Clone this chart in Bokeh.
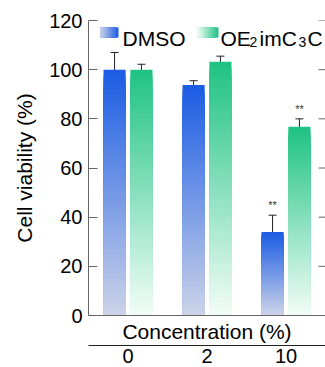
import numpy as np
from bokeh.plotting import figure
from bokeh.models import Range1d, LinearAxis, FixedTicker, ColumnDataSource, Whisker, TeeHead
from bokeh.core.properties import value
from bokeh.embed import file_html
from bokeh.resources import INLINE

# ---------------- data ----------------
concentrations = ["0", "2", "10"]
dmso_mean = [100.0, 93.8, 34.0]
dmso_err = [7.0, 1.7, 6.8]
oe_mean = [100.0, 103.2, 76.8]
oe_err = [2.2, 2.3, 3.2]
dmso_sig = ["", "", "**"]
oe_sig = ["", "", "**"]
y_ticks = [0, 20, 40, 60, 80, 100, 120]

# ---------------- style ----------------
FONT = "Liberation Sans"
DMSO_TOP, DMSO_BOT = "#1a5ce4", "#ccd3e8"
OE_TOP, OE_BOT = "#1ec283", "#f3fdf8"
BAR_W = 0.28
OFFSET = 0.17
N = 40
FRAME_L, FRAME_R, FRAME_T, FRAME_B = 88, 325, 20, 315

def hex2rgb(h):
    h = h.lstrip("#")
    return np.array([int(h[i:i + 2], 16) for i in (0, 2, 4)], dtype=float)

def mix(c0, c1, f):
    a, b = hex2rgb(c0), hex2rgb(c1)
    c = a + (b - a) * f
    return "#%02x%02x%02x" % tuple(int(round(v)) for v in c)

centers = [i + 0.5 for i in range(len(concentrations))]

p = figure(width=325, height=367, x_range=Range1d(0, 3), y_range=Range1d(0, 120),
           output_backend="svg", toolbar_location=None,
           min_border_left=FRAME_L, min_border_top=FRAME_T, min_border_right=0,
           min_border_bottom=367 - FRAME_B)
p.outline_line_color = None
p.xgrid.visible = False
p.ygrid.visible = False
p.background_fill_color = "white"

# gradient bars (stacked from full height down so no seams)
def gradient_bars(xs, vals, top_c, bot_c):
    L, R, B, T, C = [], [], [], [], []
    for x, v in zip(xs, vals):
        for k in range(N - 1, -1, -1):
            L.append(x - BAR_W / 2); R.append(x + BAR_W / 2)
            B.append(0); T.append(v * (k + 1) / N)
            C.append(mix(bot_c, top_c, (k + 0.5) / N))
    p.quad(left=L, right=R, bottom=B, top=T, fill_color=C, line_color=None)

x_dmso = [c - OFFSET for c in centers]
x_oe = [c + OFFSET for c in centers]
gradient_bars(x_dmso, dmso_mean, DMSO_TOP, DMSO_BOT)
gradient_bars(x_oe, oe_mean, OE_TOP, OE_BOT)

# error bars
for xs, m, e, sig in ((x_dmso, dmso_mean, dmso_err, dmso_sig), (x_oe, oe_mean, oe_err, oe_sig)):
    src = ColumnDataSource(dict(x=xs, upper=[a + b for a, b in zip(m, e)],
                                lower=[a - b for a, b in zip(m, e)], sig=sig))
    w = Whisker(source=src, base="x", upper="upper", lower="lower", line_color="#222222", line_width=1,
                upper_head=TeeHead(size=8, line_color="#222222", line_width=1),
                lower_head=TeeHead(size=8, line_color="#222222", line_width=1))
    p.add_layout(w)
    p.text(x="x", y="upper", text="sig", source=src, text_align="center", text_baseline="bottom",
           y_offset=-4, text_font=value(FONT), text_font_size=value("11px"), text_color="#333333")

# legend (drawn manually for gradient swatches and subscripts)
def px_x(px):
    return (px - FRAME_L) * 3 / float(FRAME_R - FRAME_L)
def px_y(py):
    return (FRAME_B - py) * 120 / float(FRAME_B - FRAME_T)

def swatch(x0, x1, y0, y1, top_c, bot_c):
    L, R, B, T, C = [], [], [], [], []
    M = 20
    for k in range(M - 1, -1, -1):
        L.append(px_x(x0)); R.append(px_x(x0 + (x1 - x0) * (k + 1) / M))
        B.append(px_y(y1)); T.append(px_y(y0))
        C.append(mix(bot_c, top_c, (k + 0.5) / M))
    p.quad(left=L, right=R, bottom=B, top=T, fill_color=C, line_color=None)

swatch(100, 118, 27, 37, DMSO_TOP, DMSO_BOT)
swatch(197, 218, 27, 37, OE_TOP, OE_BOT)
p.text(x=[px_x(122)], y=[px_y(38)], text=["DMSO"], text_baseline="alphabetic",
       text_font=value(FONT), text_font_size=value("21px"), text_color="black")
p.text(x=[px_x(220), px_x(259), px_x(307)], y=[px_y(38)] * 3, text=["OE", "imC", "C"],
       text_baseline="alphabetic", text_font=value(FONT), text_font_size=value("21px"), text_color="black")
p.text(x=[px_x(249), px_x(298)], y=[px_y(41)] * 2, text=["2", "3"],
       text_baseline="alphabetic", text_font=value(FONT), text_font_size=value("14px"), text_color="black")

# right-hand inward ticks
AX_GRAY = "#666666"
p.ray(x=[3] * len(y_ticks), y=y_ticks, length=7, length_units="screen", angle=np.pi,
      line_color=AX_GRAY, line_width=1)

# axes
yax = p.yaxis[0]
yax.ticker = FixedTicker(ticks=y_ticks)
yax.major_tick_in = 9
yax.major_tick_out = 0
yax.minor_tick_line_color = None
yax.major_tick_line_color = AX_GRAY
yax.axis_line_color = AX_GRAY
yax.major_label_text_font = FONT
yax.major_label_text_font_size = "20px"
yax.major_label_text_color = "black"
yax.major_label_standoff = 6
yax.axis_label = "Cell viability (%)"
yax.axis_label_text_font = FONT
yax.axis_label_text_font_size = "21px"
yax.axis_label_text_font_style = "normal"
yax.axis_label_text_color = "black"
yax.axis_label_standoff = 10

xax = p.xaxis[0]
xax.ticker = FixedTicker(ticks=[])
xax.major_tick_in = 0
xax.major_tick_out = 0
xax.minor_tick_line_color = None
xax.axis_line_color = AX_GRAY
xax.major_label_standoff = 0
xax.axis_label = "Concentration (%)"
xax.axis_label_text_font = FONT
xax.axis_label_text_font_size = "21px"
xax.axis_label_text_font_style = "normal"
xax.axis_label_text_color = "black"
xax.axis_label_standoff = 4

bax = LinearAxis(ticker=FixedTicker(ticks=centers),
                 major_label_overrides={c: lab for c, lab in zip(centers, concentrations)},
                 major_tick_in=0, major_tick_out=0, minor_tick_line_color=None,
                 axis_line_color="#222222", axis_line_width=1.2,
                 major_label_text_font=FONT, major_label_text_font_size="20px",
                 major_label_text_color="black", major_label_standoff=3)
p.add_layout(bax, "below")

open("out.html", "w").write(file_html(p, INLINE))
